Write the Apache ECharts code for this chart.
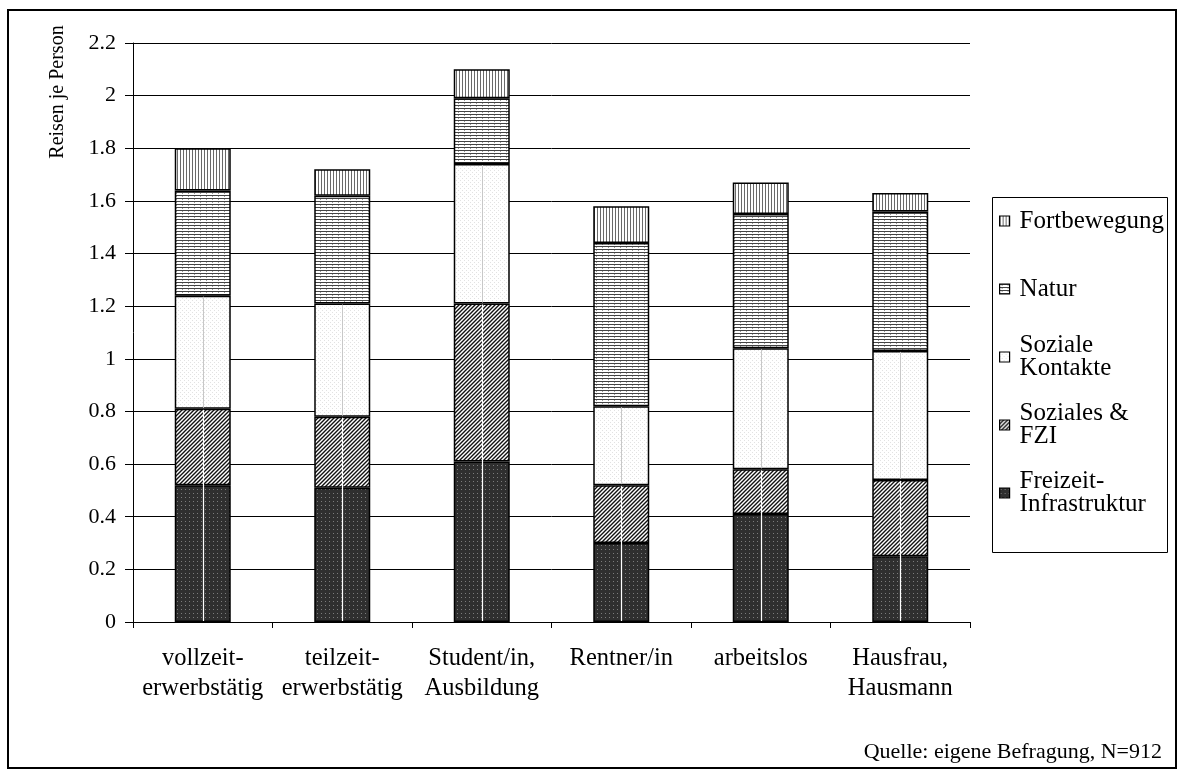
<!DOCTYPE html>
<html>
<head>
<meta charset="utf-8">
<title>Reisen je Person nach Erwerbsstatus</title>
<script src="https://cdn.jsdelivr.net/npm/echarts@6/dist/echarts.min.js"></script>
<style>
  html, body { margin: 0; padding: 0; background: #fff; }
  #chart { width: 1184px; height: 776px; }
</style>
</head>
<body>
<div id="chart"></div>
<script>
// Trips per person by employment status, split by travel motive (stacked)
const categories = [
  'vollzeit-\nerwerbstätig',
  'teilzeit-\nerwerbstätig',
  'Student/in,\nAusbildung',
  'Rentner/in',
  'arbeitslos',
  'Hausfrau,\nHausmann'
];
const freizeitInfrastruktur = [0.52, 0.51, 0.61, 0.30, 0.41, 0.25];
const sozialesFzi          = [0.29, 0.27, 0.60, 0.22, 0.17, 0.29];
const sozialeKontakte      = [0.43, 0.43, 0.53, 0.30, 0.46, 0.49];
const natur                = [0.40, 0.41, 0.25, 0.62, 0.51, 0.53];
const fortbewegung         = [0.16, 0.10, 0.11, 0.14, 0.12, 0.07];

const yMin = 0, yMax = 2.2, yStep = 0.2;
const sourceNote = 'Quelle: eigene Befragung, N=912';
const yTitle = 'Reisen je Person';

const SERIF = '"Liberation Serif", "Times New Roman", serif';

// ---- fill patterns (small canvas tiles) ----
function tile(w, h, draw) {
  const c = document.createElement('canvas');
  c.width = w; c.height = h;
  const g = c.getContext('2d');
  draw(g, w, h);
  return { image: c, repeat: 'repeat' };
}
const patVertical = tile(3, 3, (g, w, h) => {
  g.fillStyle = '#fff'; g.fillRect(0, 0, w, h);
  g.fillStyle = '#6a6a6a'; g.fillRect(0, 0, 1, h);
});
const patHorizontal = tile(6, 3, (g, w, h) => {
  g.fillStyle = '#fff'; g.fillRect(0, 0, w, h);
  g.fillStyle = '#444'; g.fillRect(0, 0, w, 1);
  g.fillStyle = '#9a9a9a'; g.fillRect(2, 1, 1, 1);
});
const patLightDots = tile(4, 4, (g, w, h) => {
  g.fillStyle = '#fff'; g.fillRect(0, 0, w, h);
  g.fillStyle = '#e2e2e2'; g.fillRect(0, 0, 1, 1); g.fillRect(2, 2, 1, 1);
});
const patDiagonal = tile(4, 4, (g, w, h) => {
  g.fillStyle = '#fff'; g.fillRect(0, 0, w, h);
  g.strokeStyle = '#111'; g.lineWidth = 1.4;
  g.beginPath();
  g.moveTo(-1, 5); g.lineTo(5, -1);
  g.moveTo(-1, 1); g.lineTo(1, -1);
  g.moveTo(3, 5); g.lineTo(5, 3);
  g.stroke();
});
const patDarkDots = tile(4, 4, (g, w, h) => {
  g.fillStyle = '#2f2f2f'; g.fillRect(0, 0, w, h);
  g.fillStyle = '#7c7c7c'; g.fillRect(1, 1, 1, 1);
});

const barBase = {
  type: 'bar',
  stack: 'total',
  barWidth: 56,
  silent: true,
  animation: false
};
function barSeries(name, data, fill) {
  return Object.assign({}, barBase, {
    name: name,
    data: data,
    itemStyle: { color: fill, borderColor: '#000', borderWidth: 1.5 }
  });
}

// centre rule through the lower three segments of each bar
const centreRules = categories.map((c, i) => [
  i,
  freizeitInfrastruktur[i] + sozialesFzi[i],
  freizeitInfrastruktur[i] + sozialesFzi[i] + sozialeKontakte[i]
]);

// legend: one block per entry so the icon sits on the first text line
const legendEntries = [
  { name: 'Fortbewegung', lines: 1, lineY: 226 },
  { name: 'Natur', lines: 1, lineY: 294 },
  { name: 'Soziale Kontakte', lines: 2, lineY: 362 },
  { name: 'Soziales & FZI', lines: 2, lineY: 430 },
  { name: 'Freizeit-Infrastruktur', lines: 2, lineY: 498 }
];
const legendLabel = {
  'Fortbewegung': 'Fortbewegung',
  'Natur': 'Natur',
  'Soziale Kontakte': 'Soziale\nKontakte',
  'Soziales & FZI': 'Soziales &\nFZI',
  'Freizeit-Infrastruktur': 'Freizeit-\nInfrastruktur'
};
const LH = 23;
const legends = legendEntries.map(e => {
  const padTop = e.lines === 1 ? 10 : 33;
  const blockH = padTop + e.lines * LH;
  const iconCentre = e.lineY - 5;
  return {
    data: [e.name],
    orient: 'vertical',
    left: 999,
    top: iconCentre - blockH / 2,
    padding: 0,
    icon: 'rect',
    itemWidth: 10,
    itemHeight: 10,
    selectedMode: false,
    itemStyle: { borderColor: '#000', borderWidth: 1.2 },
    formatter: n => legendLabel[n],
    textStyle: {
      fontFamily: SERIF, fontSize: 25, color: '#000',
      lineHeight: LH, padding: [padTop, 0, 0, 5]
    }
  };
});

const chart = echarts.init(document.getElementById('chart'), null, { renderer: 'canvas' });
chart.setOption({
  backgroundColor: '#fff',
  animation: false,
  grid: { left: 133, right: 214, top: 43, bottom: 154, containLabel: false },
  xAxis: {
    type: 'category',
    data: categories,
    boundaryGap: true,
    axisLine: { lineStyle: { color: '#000', width: 1 } },
    axisTick: { show: true, length: 6, lineStyle: { color: '#000' } },
    axisLabel: {
      fontFamily: SERIF, fontSize: 24.5, color: '#000',
      lineHeight: 30, margin: 22, interval: 0
    }
  },
  yAxis: {
    type: 'value',
    min: yMin, max: yMax, interval: yStep,
    axisLine: { show: true, lineStyle: { color: '#000', width: 1 } },
    axisTick: { show: true, length: 8, lineStyle: { color: '#000' } },
    axisLabel: { fontFamily: SERIF, fontSize: 22, color: '#000', margin: 17 },
    splitLine: { show: true, lineStyle: { color: '#000', width: 1 } }
  },
  legend: legends,
  series: [
    barSeries('Freizeit-Infrastruktur', freizeitInfrastruktur, patDarkDots),
    barSeries('Soziales & FZI', sozialesFzi, patDiagonal),
    barSeries('Soziale Kontakte', sozialeKontakte, patLightDots),
    barSeries('Natur', natur, patHorizontal),
    barSeries('Fortbewegung', fortbewegung, patVertical),
    {
      type: 'custom',
      name: 'centre',
      silent: true,
      z: 3,
      data: centreRules,
      encode: { x: 0, y: [1, 2] },
      renderItem: function (params, api) {
        const i = api.value(0);
        const p0 = api.coord([i, 0]);
        const p1 = api.coord([i, api.value(1)]);
        const p2 = api.coord([i, api.value(2)]);
        const x = Math.round(p0[0]) + 0.5;
        return {
          type: 'group',
          children: [
            { type: 'line', shape: { x1: x, y1: p0[1] - 1, x2: x, y2: p1[1] + 1 },
              style: { stroke: '#ffffff', lineWidth: 1.2 } },
            { type: 'line', shape: { x1: x, y1: p1[1] - 1, x2: x, y2: p2[1] + 1 },
              style: { stroke: '#c8c8c8', lineWidth: 1 } }
          ]
        };
      }
    }
  ],
  graphic: [
    { type: 'rect', shape: { x: 8, y: 10, width: 1168, height: 758 },
      style: { fill: 'none', stroke: '#000', lineWidth: 2 }, silent: true, z: -10 },
    { type: 'rect', shape: { x: 992.5, y: 197.5, width: 175, height: 355 },
      style: { fill: 'none', stroke: '#000', lineWidth: 1 }, silent: true },
    { type: 'text', x: 58, y: 92, rotation: Math.PI / 2, silent: true,
      style: { text: yTitle, font: '20px ' + SERIF, fill: '#000',
               textAlign: 'center', textVerticalAlign: 'middle' } },
    { type: 'text', x: 1162, y: 752, silent: true,
      style: { text: sourceNote, font: '22px ' + SERIF, fill: '#000',
               textAlign: 'right', textVerticalAlign: 'middle' } }
  ]
});
</script>
</body>
</html>
